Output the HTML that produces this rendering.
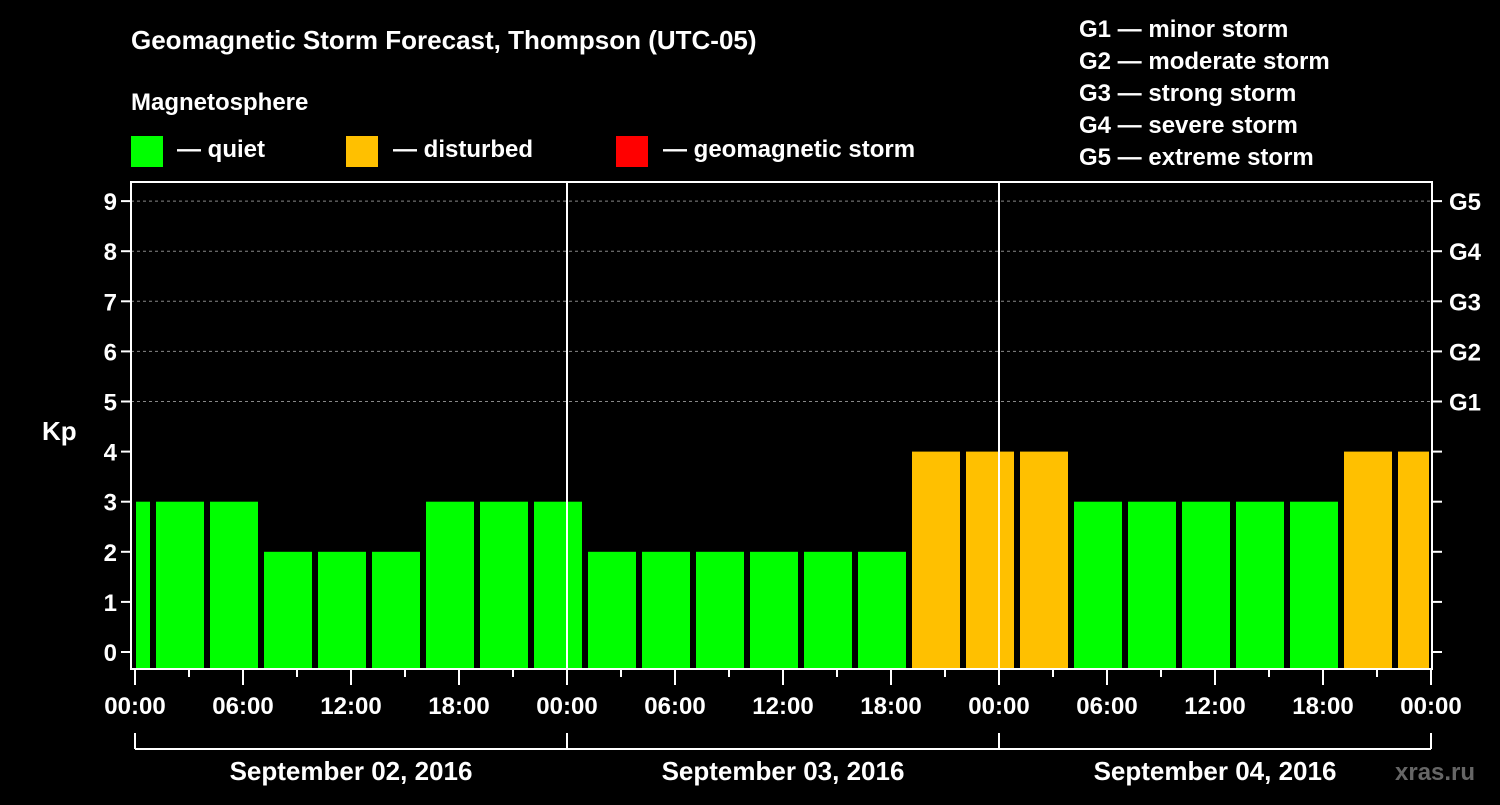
<!DOCTYPE html>
<html><head><meta charset="utf-8"><style>
body{margin:0;background:#000;width:1500px;height:800px;overflow:hidden}
text{font-family:"Liberation Sans",Arial,sans-serif;font-weight:bold;fill:#fff}
</style></head><body>
<svg id="chart" width="1500" height="800" xmlns="http://www.w3.org/2000/svg">
<rect width="1500" height="800" fill="#000"/>
<text x="131" y="49" font-size="26">Geomagnetic Storm Forecast, Thompson (UTC-05)</text>
<text x="131" y="110" font-size="24">Magnetosphere</text>
<g><rect x="131" y="136" width="32" height="31" fill="#00ff00"/><text x="177" y="157" font-size="24">— quiet</text></g>
<g><rect x="346" y="136" width="32" height="31" fill="#ffc000"/><text x="393" y="157" font-size="24">— disturbed</text></g>
<g><rect x="616" y="136" width="32" height="31" fill="#ff0000"/><text x="663" y="157" font-size="24">— geomagnetic storm</text></g>
<g font-size="24">
<text x="1079" y="37" font-size="24">G1 — minor storm</text>
<text x="1079" y="69" font-size="24">G2 — moderate storm</text>
<text x="1079" y="101" font-size="24">G3 — strong storm</text>
<text x="1079" y="133" font-size="24">G4 — severe storm</text>
<text x="1079" y="165" font-size="24">G5 — extreme storm</text>
</g>
<g id="grid"></g><g id="bars"></g><g id="axes"></g>
<text x="42" y="440" font-size="26">Kp</text>
<text x="1395" y="780" font-size="24" fill="#666" style="fill:#666">xras.ru</text>
</svg>
<script>
const startHour = -2;
const kpValues = [3,3,3,2,2,2,3,3,3,2,2,2,2,2,2,4,4,4,3,3,3,3,3,4,4];
const yTicks = [0,1,2,3,4,5,6,7,8,9];
const gLabels = ["G1","G2","G3","G4","G5"];
const gLevels = [5,6,7,8,9];
const xLabels = ["00:00","06:00","12:00","18:00","00:00","06:00","12:00","18:00","00:00","06:00","12:00","18:00","00:00"];
const dayLabels = ["September 02, 2016","September 03, 2016","September 04, 2016"];

const NS="http://www.w3.org/2000/svg";
const L=131,R=1432,T=182,B=669,X0=135,HPX=18;
const x=h=>X0+h*HPX;
const y=k=>652-k*50.1;
function mk(tag,attrs,parent){const e=document.createElementNS(NS,tag);for(const k in attrs)e.setAttribute(k,attrs[k]);document.getElementById(parent).appendChild(e);return e;}
// grid
gLevels.forEach((g,i)=>{
 const l=mk('line',{x1:L,x2:R,y1:y(g),y2:y(g),stroke:'#888','stroke-dasharray':'3,3','stroke-width':1},'grid');
 
 
});
// bars
kpValues.forEach((v,i)=>{
 let h0=startHour+3*i,h1=h0+3;
 let x0=Math.max(x(h0)+3,X0+1),x1=Math.min(x(h1)-3,R-3);
 const c=v>=5?'#ff0000':v>=4?'#ffc000':'#00ff00';
 const r=mk('rect',{x:x0,y:y(v),width:x1-x0,height:B-y(v),fill:c},'bars');
 
 
});
// frame
const f=mk('rect',{x:L,y:T,width:R-L,height:B-T,fill:'none',stroke:'#fff','stroke-width':2},'axes');


[24,48].forEach(h=>{
 const d=mk('line',{x1:x(h),x2:x(h),y1:T,y2:B,stroke:'#fff','stroke-width':2},'axes');
 
 
});
yTicks.forEach(k=>{
 mk('line',{x1:L-10,x2:L,y1:y(k),y2:y(k),stroke:'#fff','stroke-width':2},'axes');
 mk('line',{x1:R,x2:R+10,y1:y(k),y2:y(k),stroke:'#fff','stroke-width':2},'axes');
 const t=mk('text',{x:L-14,y:y(k)+9,'text-anchor':'end','font-size':24},'axes');
 t.textContent=k;
 
 
});
gLabels.forEach((g,i)=>{
 const t=mk('text',{x:R+17,y:y(gLevels[i])+9,'font-size':24},'axes');
 t.textContent=g;
 
 
});
for(let h=0;h<=72;h+=3){
 const major=h%6===0;
 mk('line',{x1:x(h),x2:x(h),y1:B,y2:B+(major?16:8),stroke:'#fff','stroke-width':2},'axes');
}
xLabels.forEach((s,i)=>{
 const t=mk('text',{x:x(i*6),y:714,'text-anchor':'middle','font-size':24},'axes');
 t.textContent=s;
 
 
});
mk('line',{x1:x(0),x2:x(72),y1:749,y2:749,stroke:'#fff','stroke-width':2},'axes');
[0,24,48,72].forEach(h=>mk('line',{x1:x(h),x2:x(h),y1:733,y2:749,stroke:'#fff','stroke-width':2},'axes'));
dayLabels.forEach((s,i)=>{
 const t=mk('text',{x:x(i*24+12),y:780,'text-anchor':'middle','font-size':26},'axes');
 t.textContent=s;
 
 
});
</script>
</body></html>
